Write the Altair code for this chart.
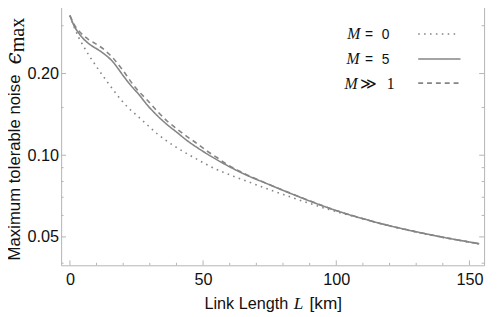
import altair as alt
import pandas as pd

# ---- data ----
series_names = ["M = 0", "M = 5", "M >> 1"]

L_m0 = [0, 1.48, 3.33, 5.17, 7.02, 8.87, 10.71, 12.56, 14.41, 16.26, 18.10, 19.95, 21.80,
        23.64, 25.49, 29.19, 32.88, 36.58, 40.27, 43.96, 47.66, 51.35, 55.05, 58.74, 62.44,
        66.13, 71.67, 76.48, 80.17, 88.30, 96.80, 109.36, 121.55, 133.74, 153.69]
eps_m0 = [0.3273, 0.2986, 0.2713, 0.2516, 0.2344, 0.2202, 0.2068, 0.1951, 0.1840, 0.1743,
          0.1650, 0.1570, 0.1499, 0.1444, 0.1391, 0.1290, 0.1197, 0.1124, 0.1065, 0.1013,
          0.0967, 0.0924, 0.0886, 0.0857, 0.0829, 0.0804, 0.0767, 0.0737, 0.0716, 0.0673,
          0.0633, 0.0585, 0.0544, 0.0512, 0.0471]

L_m5 = [0, 1.48, 3.33, 5.17, 7.02, 8.87, 10.71, 12.56, 14.41, 16.26, 18.10, 19.95, 21.80,
        23.64, 25.49, 29.19, 32.88, 36.58, 40.27, 43.96, 47.66, 51.35, 58.74, 66.13, 73.52,
        80.91, 100.49, 115.27, 133.74, 153.69]
eps_m5 = [0.3273, 0.3011, 0.2817, 0.2679, 0.2580, 0.2506, 0.2444, 0.2373, 0.2295, 0.2202,
          0.2085, 0.1967, 0.1863, 0.1772, 0.1692, 0.1525, 0.1397, 0.1295, 0.1212, 0.1133,
          0.1069, 0.1013, 0.0920, 0.0846, 0.0789, 0.0736, 0.0623, 0.0565, 0.0513, 0.0472]

L_minf = [0, 1.48, 3.33, 5.17, 7.02, 8.87, 10.71, 12.56, 14.41, 16.26, 18.10, 19.95, 21.80,
          23.64, 25.49, 29.19, 32.88, 36.58, 40.27, 43.96, 47.66, 51.35, 55.05, 58.74, 66.13,
          73.52, 80.91, 100.49, 115.27, 133.74, 153.69]
eps_minf = [0.3273, 0.3049, 0.2876, 0.2758, 0.2668, 0.2602, 0.2537, 0.2464, 0.2373, 0.2276,
            0.2165, 0.2051, 0.1934, 0.1824, 0.1735, 0.1590, 0.1450, 0.1334, 0.1248, 0.1172,
            0.1105, 0.1038, 0.0983, 0.0929, 0.0850, 0.0790, 0.0737, 0.0623, 0.0565, 0.0513,
            0.0472]

x_major = [0, 50, 100, 150]
x_minor = [10, 20, 30, 40, 60, 70, 80, 90, 110, 120, 130, 140]
y_major = [0.05, 0.10, 0.20]
y_minor = [0.04, 0.06, 0.07, 0.08, 0.09, 0.15, 0.3]

# ---- build table ----
frames = []
for name, xs, ys in zip(series_names, [L_m0, L_m5, L_minf], [eps_m0, eps_m5, eps_minf]):
    frames.append(pd.DataFrame({"L": xs, "eps": ys, "series": name}))
df = pd.concat(frames, ignore_index=True)

W, H = 430, 268
LINE = "#858585"
FRAME = "#b4b4b4"
SANS = "Liberation Sans"
SERIF = "Liberation Serif"

xscale = alt.Scale(domain=[-3.3, 155.5], nice=False, zero=False)
yscale = alt.Scale(type="log", domain=[0.0393, 0.368], nice=False)

xaxis = alt.Axis(values=x_major, title=None, grid=False, domain=False, ticks=False,
                 tickSize=0, labelFontSize=16.5, labelFont=SANS, labelColor="#111",
                 labelPadding=7, labelFlush=False)
yaxis = alt.Axis(values=y_major, format=".2f", title=None, grid=False, domain=False,
                 ticks=False, tickSize=0, labelFontSize=16.5, labelFont=SANS,
                 labelColor="#111", labelPadding=2.5)

lines = alt.Chart(df).mark_line(strokeWidth=1.6, color=LINE, interpolate="monotone").encode(
    x=alt.X("L:Q", scale=xscale, axis=xaxis),
    y=alt.Y("eps:Q", scale=yscale, axis=yaxis),
    strokeDash=alt.StrokeDash("series:N",
                              scale=alt.Scale(domain=series_names,
                                              range=[[1.6, 4.4], [1, 0], [5, 4]]),
                              legend=None),
    detail="series:N",
)

def xticks(vals, length):
    d = pd.DataFrame({"v": vals})
    bottom = alt.Chart(d).mark_rule(color=FRAME, strokeWidth=1).encode(
        x=alt.X("v:Q", scale=xscale, axis=xaxis), y=alt.value(H), y2=alt.value(H - length))
    top = alt.Chart(d).mark_rule(color=FRAME, strokeWidth=1).encode(
        x=alt.X("v:Q", scale=xscale, axis=xaxis), y=alt.value(0), y2=alt.value(length))
    return [bottom, top]

def yticks(vals, length):
    d = pd.DataFrame({"v": vals})
    left = alt.Chart(d).mark_rule(color=FRAME, strokeWidth=1).encode(
        y=alt.Y("v:Q", scale=yscale, axis=yaxis), x=alt.value(0), x2=alt.value(length))
    right = alt.Chart(d).mark_rule(color=FRAME, strokeWidth=1).encode(
        y=alt.Y("v:Q", scale=yscale, axis=yaxis), x=alt.value(W), x2=alt.value(W - length))
    return [left, right]

one = alt.Data(values=[{}])

def txt(s, x, y, size, font=SANS, style="normal", angle=0, color="#111"):
    return alt.Chart(one).mark_text(
        text=s, font=font, fontSize=size, fontStyle=style, align="left",
        baseline="alphabetic", angle=angle, color=color
    ).encode(x=alt.value(x), y=alt.value(y))

def legline(y, dash, x1=363, x2=406):
    return alt.Chart(one).mark_rule(color=LINE, strokeWidth=1.6, strokeDash=dash).encode(
        x=alt.value(x1), x2=alt.value(x2), y=alt.value(y))

legend_layers = [
    txt("M", 291, 38.3, 16, SERIF, "italic"), txt("=", 309, 38.3, 14), txt("0", 326, 38.3, 14),
    txt("M", 290, 63.7, 16, SERIF, "italic"), txt("=", 309, 63.7, 14), txt("5", 326, 63.7, 14),
    txt("M", 288, 88.3, 16, SERIF, "italic"), txt("≫", 304, 88.3, 16, SERIF), txt("1", 331, 88.3, 16, SERIF),
    legline(32.8, [1.6, 4.4], 363, 403), legline(58.2, [1, 0]), legline(82.8, [5, 4]),
]

title_layers = [
    txt("Link Length", 145.7, 312.7, 16.5),
    txt("L", 236.5, 312.7, 17.5, SERIF, "italic"),
    txt("[km]", 252.5, 312.7, 17.5),
    txt("Maximum tolerable noise", -41.5, 263, 17, angle=270),
    txt("ϵ", -41, 64, 22, "DejaVu Serif", "italic", angle=270),
    txt("max", -37.5, 51.5, 20.5, SERIF, angle=270),
]

layers = [lines] + xticks(x_major, 5) + xticks(x_minor, 2.5) + yticks(y_major, 5) + \
    yticks(y_minor, 2.5) + legend_layers + title_layers

chart = alt.layer(*layers).properties(
    width=W, height=H,
    autosize=alt.AutoSizeParams(type="none"),
    padding={"left": 54, "top": -9, "right": 6, "bottom": 50},
).configure_view(stroke=FRAME, strokeWidth=1)

chart.save("out.html", embed_options={"renderer": "svg", "actions": False})
